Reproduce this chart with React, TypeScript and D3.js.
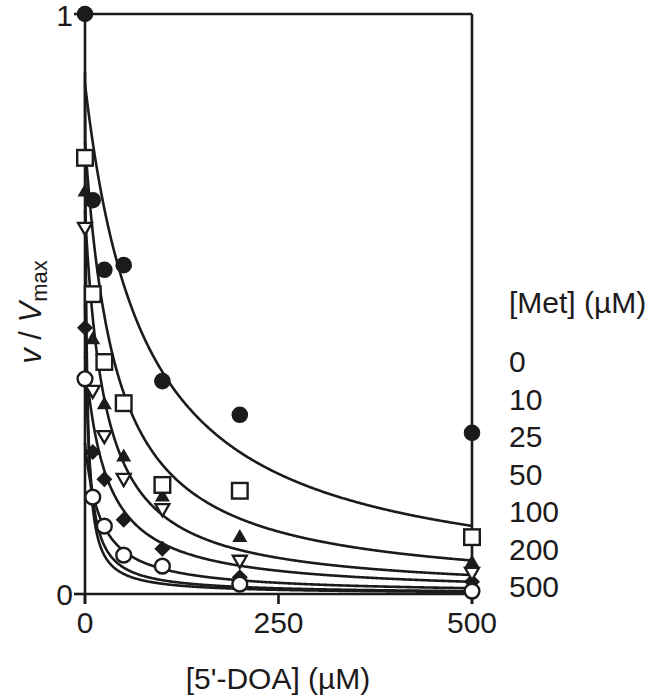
import React from 'react';
import * as d3 from 'd3';

// [5'-DOA] concentrations (µM)
const doaConc = [0, 10, 25, 50, 100, 200, 500];
// v / Vmax for each [Met] series
const seriesFilledCircle = [1.0, 0.679, 0.559, 0.567, 0.367, 0.309, 0.278];
const seriesOpenSquare = [0.752, 0.517, 0.4, 0.329, 0.188, 0.178, 0.098];
const seriesFilledTriangle = [0.693, 0.438, 0.326, 0.236, 0.167, 0.097, 0.053];
const seriesOpenTriangleDown = [0.633, 0.352, 0.274, 0.2, 0.148, 0.059, 0.038];
const seriesFilledDiamond = [0.459, 0.245, 0.198, 0.128, 0.078, 0.029, 0.021];
const seriesOpenCircle = [0.371, 0.167, 0.117, 0.067, 0.048, 0.017, 0.005];

// fitted hyperbolic curves: v/Vmax = A / (1 + [DOA]/K)
const curveAmp = [0.88, 0.78, 0.66, 0.41, 0.26, 0.5, 0.9];
const curveK = [77, 40, 26, 27, 20, 5, 2];

const xTitle = "[5'-DOA] (\u00b5M)";
const legendTitle = '[Met] (\u00b5M)';
const legendLabels = ['0', '10', '25', '50', '100', '200', '500'];
const xTicks = [0, 250, 500];
const yTicks = [0, 1];

const INK = '#1c1a1b';
const FONT = "'Liberation Sans', Arial, Helvetica, sans-serif";

export default function App() {
  const x = d3.scaleLinear().domain([0, 500]).range([85, 472]);
  const y = d3.scaleLinear().domain([0, 1]).range([594, 14]);

  const sampleX = d3.range(0, 20, 0.1).concat(d3.range(20, 500.001, 1));
  const line = d3
    .line<number>()
    .x((d) => x(d))
    .curve(d3.curveLinear);

  const curves = curveAmp.map((a, i) =>
    line.y((d) => y(a / (1 + d / curveK[i])))(sampleX) as string
  );

  const tri = (cx: number, cy: number, s: number, down: boolean) => {
    const h = (s * Math.sqrt(3)) / 2;
    const dir = down ? -1 : 1;
    const top = cy - (dir * (h * 2)) / 3;
    const base = cy + (dir * h) / 3;
    return `M${cx},${top}L${cx + s / 2},${base}L${cx - s / 2},${base}Z`;
  };
  const diamond = (cx: number, cy: number, r: number) =>
    `M${cx},${cy - r}L${cx + r},${cy}L${cx},${cy + r}L${cx - r},${cy}Z`;

  const sw = 2.6;

  return (
    <svg
      width={650}
      height={698}
      style={{ position: 'absolute', left: 0, top: 0, background: '#fff' }}
      fontFamily={FONT}
    >
      <rect x={0} y={0} width={650} height={698} fill="#fff" />
      {/* frame */}
      <g stroke={INK} strokeWidth={sw} fill="none">
        <line x1={x(0)} x2={x(500)} y1={y(1)} y2={y(1)} />
        <line x1={x(0)} x2={x(500)} y1={y(0)} y2={y(0)} />
        <line x1={x(0)} x2={x(0)} y1={y(1)} y2={y(0) + 10} />
        <line x1={x(500)} x2={x(500)} y1={y(1)} y2={y(0) + 10} />
        {xTicks.map((t) => (
          <line key={'xt' + t} x1={x(t)} x2={x(t)} y1={y(0)} y2={y(0) + 10} />
        ))}
        {yTicks.map((t) => (
          <line key={'yt' + t} x1={x(0) - 11} x2={x(0)} y1={y(t)} y2={y(t)} />
        ))}
      </g>
      {/* tick labels */}
      <g fill={INK} fontSize={30}>
        {xTicks.map((t) => (
          <text key={'xl' + t} x={x(t)} y={y(0) + 39} textAnchor="middle">
            {t}
          </text>
        ))}
        {yTicks.map((t) => (
          <text
            key={'yl' + t}
            x={x(0) - 12}
            y={y(t) + (t === 1 ? 12 : 11)}
            textAnchor="end"
          >
            {t}
          </text>
        ))}
      </g>
      {/* axis titles */}
      <text x={278} y={689} textAnchor="middle" fontSize={30} fill={INK}>
        {xTitle}
      </text>
      <text
        transform="translate(41,312) rotate(-90)"
        textAnchor="middle"
        fontSize={31}
        fill={INK}
      >
        <tspan fontStyle="italic">v</tspan>
        <tspan> / </tspan>
        <tspan fontStyle="italic">V</tspan>
        <tspan fontSize={22} dy={6}>
          max
        </tspan>
      </text>
      {/* fitted curves */}
      <g stroke={INK} strokeWidth={2.6} fill="none">
        {curves.map((d, i) => (
          <path key={'c' + i} d={d} />
        ))}
      </g>
      {/* data markers */}
      <g>
        {doaConc.map((c, i) => (
          <path
            key={'dm' + i}
            d={diamond(x(c), y(seriesFilledDiamond[i]), 8)}
            fill={INK}
          />
        ))}
        {doaConc.map((c, i) => (
          <path
            key={'ft' + i}
            d={tri(x(c), y(seriesFilledTriangle[i]), 15, false)}
            fill={INK}
          />
        ))}
        {doaConc.map((c, i) => (
          <path
            key={'ot' + i}
            d={tri(x(c), y(seriesOpenTriangleDown[i]), 14, true)}
            fill="#fff"
            stroke={INK}
            strokeWidth={2.3}
          />
        ))}
        {doaConc.map((c, i) => (
          <circle
            key={'oc' + i}
            cx={x(c)}
            cy={y(seriesOpenCircle[i])}
            r={7.4}
            fill="#fff"
            stroke={INK}
            strokeWidth={2.4}
          />
        ))}
        {doaConc.map((c, i) => (
          <rect
            key={'sq' + i}
            x={x(c) - 7.8}
            y={y(seriesOpenSquare[i]) - 7.8}
            width={15.6}
            height={15.6}
            fill="#fff"
            stroke={INK}
            strokeWidth={2.4}
          />
        ))}
        {doaConc.map((c, i) => (
          <circle
            key={'fc' + i}
            cx={x(c)}
            cy={y(seriesFilledCircle[i])}
            r={8.3}
            fill={INK}
          />
        ))}
      </g>
      {/* legend */}
      <g fill={INK} fontSize={30}>
        <text x={509} y={313}>
          {legendTitle}
        </text>
        {legendLabels.map((l, i) => (
          <text key={'lg' + i} x={509} y={372 + i * 37.5}>
            {l}
          </text>
        ))}
      </g>
    </svg>
  );
}
